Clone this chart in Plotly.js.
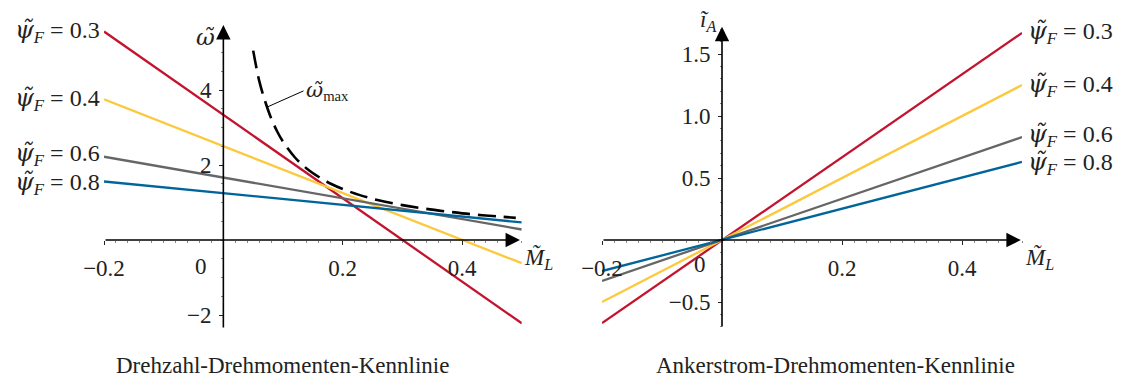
<!DOCTYPE html>
<html>
<head>
<meta charset="utf-8">
<script src="https://cdn.plot.ly/plotly-3.0.1.min.js"></script>
<style>html,body{margin:0;padding:0;background:#fff;}#chart{width:1125px;height:380px;}</style>
</head>
<body>
<div id="chart"></div>
<script>
// ---- data ----
const M_L = [-0.2, 0.5];
const psiLabels = ['0.3', '0.4', '0.6', '0.8'];
const omega_03 = [5.56, -2.22];
const omega_04 = [3.75, -0.62];
const omega_06 = [2.22, 0.28];
const omega_08 = [1.56, 0.47];
const iA_03 = [-0.67, 1.67];
const iA_04 = [-0.50, 1.25];
const iA_06 = [-0.33, 0.83];
const iA_08 = [-0.25, 0.63];
const M_max = [0.05, 0.06, 0.07, 0.08, 0.09, 0.10, 0.12, 0.14, 0.16, 0.18, 0.20, 0.23, 0.26, 0.30, 0.34, 0.38, 0.42, 0.46, 0.49];
const omega_max = [5.05, 4.25, 3.7, 3.25, 2.9, 2.62, 2.2, 1.9, 1.68, 1.5, 1.36, 1.19, 1.06, 0.93, 0.83, 0.75, 0.68, 0.63, 0.59];
const xTicks = [-0.2, 0.2, 0.4];
const yTicksLeft = [-2, 2, 4];
const yTicksRight = [-0.5, 0.5, 1.0, 1.5];
const yTickTextRight = ['−0.5', '0.5', '1.0', '1.5'];
const titleLeft = 'Drehzahl-Drehmomenten-Kennlinie';
const titleRight = 'Ankerstrom-Drehmomenten-Kennlinie';

const colors = ['#C3132F', '#FCC83C', '#666666', '#00659B'];
const omegaSets = [omega_03, omega_04, omega_06, omega_08];
const iASets = [iA_03, iA_04, iA_06, iA_08];
const FONT = 'Liberation Serif, DejaVu Serif, serif';
const GREEK = 'DejaVu Serif';
const LW = 2.3;

const traces = [];
omegaSets.forEach((ys, k) => traces.push({x: M_L, y: ys, xaxis: 'x', yaxis: 'y', mode: 'lines',
  line: {color: colors[k], width: LW}, hoverinfo: 'skip'}));
traces.push({x: M_max, y: omega_max, xaxis: 'x', yaxis: 'y', mode: 'lines', line: {color: '#000', width: 2.6, dash: '18px,8px', shape: 'spline'}, hoverinfo: 'skip'});
iASets.forEach((ys, k) => traces.push({x: M_L, y: ys, xaxis: 'x2', yaxis: 'y2', mode: 'lines',
  line: {color: colors[k], width: LW}, hoverinfo: 'skip'}));

const W = 1125, H = 380;
const px = v => v / W, py = v => 1 - v / H;
const tickFont = {family: FONT, size: 23, color: '#222'};

function xAxis(dom, pos) {
  return {domain: dom, range: [-0.2, 0.5], anchor: 'free', position: pos,
    showgrid: false, zeroline: false, showline: false,
    tickmode: 'array', tickvals: xTicks, ticks: 'outside', ticklen: 4, tickwidth: 1, tickcolor: '#222',
    tickfont: tickFont, ticklabelstandoff: 3,
    minor: {tickmode: 'linear', tick0: 0, dtick: 0.02, ticks: 'outside', ticklen: 2, tickcolor: '#888', showgrid: false},
    fixedrange: true};
}
function yAxis(dom, range, pos, vals, txt, mdt) {
  const a = {domain: dom, range: range, anchor: 'free', position: pos,
    showgrid: false, zeroline: false, showline: false,
    tickmode: 'array', tickvals: vals, ticks: 'outside', ticklen: 4, tickwidth: 1, tickcolor: '#222',
    tickfont: tickFont, ticklabelstandoff: 3,
    minor: {tickmode: 'linear', tick0: 0, dtick: mdt, ticks: 'outside', ticklen: 2, tickcolor: '#888', showgrid: false},
    fixedrange: true};
  if (txt) a.ticktext = txt;
  return a;
}

const layout = {
  width: W, height: H, margin: {l: 0, r: 0, t: 0, b: 0},
  paper_bgcolor: '#fff', plot_bgcolor: 'rgba(0,0,0,0)', showlegend: false,
  font: {family: FONT, color: '#222'},
  xaxis: xAxis([px(104), px(521.75)], py(240)),
  yaxis: yAxis([py(330), py(22.5)], [-2.4, 5.8], px(223), yTicksLeft, null, 0.5),
  xaxis2: xAxis([px(602), px(1022)], py(240)),
  yaxis2: yAxis([py(329.3), py(21.8)], [-0.72, 1.76], px(722), yTicksRight, yTickTextRight, 0.1),
  annotations: []
};
const ann = layout.annotations;
const arrow = (xr, yr, x0, y0, x1, y1) => ({xref: xr, yref: yr, axref: xr, ayref: yr, x: x1, y: y1, ax: x0, ay: y0,
  text: '', showarrow: true, arrowhead: 2, arrowsize: 1.8, arrowwidth: 1.6, arrowcolor: '#000', standoff: 0, startstandoff: 0});
// axes with arrows
ann.push(arrow('x', 'y', -0.2, 0, 0.497, 0));
ann.push(arrow('x', 'y', 0, -2.37, 0, 5.73));
ann.push(arrow('x2', 'y2', -0.2, 0, 0.498, 0));
ann.push(arrow('x2', 'y2', 0, -0.71, 0, 1.72));
// origin labels
ann.push({xref: 'x', yref: 'y', x: 0, y: 0, text: '0', showarrow: false, xanchor: 'center', xshift: -22, yshift: -26, font: tickFont});
ann.push({xref: 'x2', yref: 'y2', x: 0, y: 0, text: '0', showarrow: false, xanchor: 'center', xshift: -22, yshift: -24, font: tickFont});
// axis names
const lblFont = {family: FONT, size: 23, color: '#222'};
const greek = ch => '<span style="font-family:' + GREEK + '"><i>' + ch + '\u0303</i></span>';
ann.push({xref: 'x', yref: 'y', x: 0, y: 5.73, text: greek('ω'), showarrow: false, xanchor: 'right', xshift: -6, yshift: -12, font: lblFont});
ann.push({xref: 'x', yref: 'y', x: 0.497, y: 0, text: '<i>M\u0303</i><sub><i>L</i></sub>', showarrow: false, xanchor: 'left', xshift: 2, yshift: -18, font: lblFont});
ann.push({xref: 'x2', yref: 'y2', x: 0, y: 1.72, text: '<i>\u0129</i><sub><i>A</i></sub>', showarrow: false, xanchor: 'right', xshift: -4, yshift: 6, font: lblFont});
ann.push({xref: 'x2', yref: 'y2', x: 0.498, y: 0, text: '<i>M\u0303</i><sub><i>L</i></sub>', showarrow: false, xanchor: 'left', xshift: 2, yshift: -18, font: lblFont});
// omega_max label with leader line
ann.push({xref: 'x', yref: 'y', x: 0.074, y: 3.55, ax: 36, ay: -16, text: greek('ω') + '<sub>max</sub>', showarrow: true, arrowhead: 0, arrowwidth: 1, arrowcolor: '#000', xanchor: 'left', standoff: 0, font: {family: FONT, size: 21, color: '#222'}});
// series labels (small vertical nudges keep the two lowest labels apart)
const sFont = {family: FONT, size: 24, color: '#222'};
const nudge = [0, 0, 2, -2];
psiLabels.forEach((p, k) => {
  const t = greek('ψ') + '<sub><i>F</i></sub> = ' + p;
  ann.push({xref: 'x', yref: 'y', x: M_L[0], y: omegaSets[k][0], text: t, showarrow: false, xanchor: 'right', xshift: -2, yshift: nudge[k], font: sFont});
  ann.push({xref: 'x2', yref: 'y2', x: M_L[1], y: iASets[k][1], text: t, showarrow: false, xanchor: 'left', xshift: 4, yshift: nudge[k], font: sFont});
});
// titles
const tFont = {family: FONT, size: 23, color: '#222'};
ann.push({xref: 'paper', yref: 'paper', x: px(282), y: py(365), xanchor: 'center', yanchor: 'middle', text: titleLeft, showarrow: false, font: tFont});
ann.push({xref: 'paper', yref: 'paper', x: px(835), y: py(365), xanchor: 'center', yanchor: 'middle', text: titleRight, showarrow: false, font: tFont});

Plotly.newPlot('chart', traces, layout, {staticPlot: true, displayModeBar: false});
</script>
</body>
</html>
